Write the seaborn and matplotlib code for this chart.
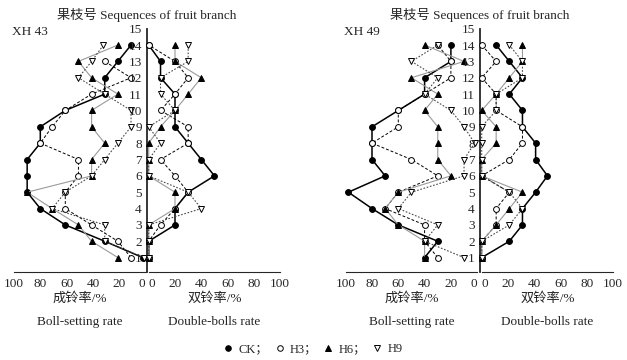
import numpy as np
import pandas as pd
import matplotlib
matplotlib.use("Agg")
import matplotlib.pyplot as plt
from matplotlib.lines import Line2D
import seaborn as sns

# Fruit branch sequence (y axis)
SEQ = list(range(1, 15))
TREATMENTS = ["CK", "H3", "H6", "H9"]

# XH 43 - boll-setting rate (%), seq 1..14
XH43_BS_CK = [2, 31, 61, 80, 90, 90, 90, 80, 80, 61, 31, 31, 21, 11]
XH43_BS_H3 = [11, 21, 41, 61, 61, 51, 51, 80, 71, 61, 41, 11, 31, np.nan]
XH43_BS_H6 = [21, 41, 51, 71, 90, 41, 41, 31, 41, 41, 21, 41, 51, 21]
XH43_BS_H9 = [1, 31, 31, 71, 61, 41, 31, 21, 11, 11, 31, 51, 41, 32]

# XH 43 - double-bolls rate (%)
XH43_DB_CK = [0, 0, 20, 20, 30, 50, 40, 30, 20, 20, 20, 9, 9, 0]
XH43_DB_H3 = [0, 0, 9, 20, 30, 20, 9, 30, 30, 9, 20, 30, 20, 0]
XH43_DB_H6 = [0, 0, 0, 20, 20, 0, 0, 0, 9, 20, 30, 40, 20, 20]
XH43_DB_H9 = [0, 0, 0, 40, 30, 0, 0, 9, 0, 20, 9, 9, 30, 30]

# XH 49 - boll-setting rate (%)
XH49_BS_CK = [40, 30, 60, 80, 98, 70, 80, 80, 80, 60, 40, 40, 20, 20]
XH49_BS_H3 = [30, 40, 40, 70, 60, 30, 50, 80, 60, 60, 40, 20, 20, 30]
XH49_BS_H6 = [40, 40, 60, 70, 60, 20, 30, 30, 30, 40, 30, 50, 10, 40]
XH49_BS_H9 = [10, 40, 30, 60, 50, 10, 10, 2, 10, 20, 40, 30, 50, 30]

# XH 49 - double-bolls rate (%)
XH49_DB_CK = [0, 21, 31, 31, 41, 50, 41, 41, 31, 31, 21, 31, 21, 11]
XH49_DB_H3 = [0, 0, 11, 11, 21, 0, 21, 31, 31, 11, 11, 0, 11, 0]
XH49_DB_H6 = [0, 0, 11, 21, 31, 0, 0, 11, 11, 0, 11, 21, 31, 31]
XH49_DB_H9 = [0, 0, 21, 31, 21, 0, 0, 0, 0, 11, 11, 31, 31, 21]

RATE_TICKS = [0, 20, 40, 60, 80, 100]
SEQ_TICKS = list(range(1, 16))

STYLES = {
    "CK": dict(color="black", linestyle="-", linewidth=1.1, marker="o",
               markerfacecolor="black"),
    "H3": dict(color="black", linestyle=(0, (3, 2)), linewidth=0.7, marker="o",
               markerfacecolor="white"),
    "H6": dict(color="#9a9a9a", linestyle="-", linewidth=0.8, marker="^",
               markerfacecolor="black"),
    "H9": dict(color="#4a4a4a", linestyle=(0, (1.5, 1.5)), linewidth=0.8, marker="v",
               markerfacecolor="white"),
}

FONT = ["Liberation Serif", "Noto Sans CJK SC"]


def to_frame(series):
    rows = []
    for name, vals in zip(TREATMENTS, series):
        for s, v in zip(SEQ, vals):
            rows.append({"seq": s, "rate": v, "treatment": name})
    return pd.DataFrame(rows).dropna()


def draw_side(ax, df):
    for name in TREATMENTS:
        sub = df[df["treatment"] == name]
        sns.lineplot(data=sub, x="rate", y="seq", orient="y", sort=False,
                     estimator=None, ax=ax, markersize=4.2,
                     markeredgecolor="black", markeredgewidth=0.7,
                     clip_on=False, zorder=3, **STYLES[name])
    ax.set_ylim(0.12, 15)
    ax.set_xlabel("")
    ax.set_ylabel("")
    for sp in ["top", "right", "left"]:
        ax.spines[sp].set_visible(False)
    ax.spines["bottom"].set_linewidth(0.8)
    ax.set_xticks(RATE_TICKS)
    ax.tick_params(axis="x", direction="in", length=3, width=0.8,
                   labelsize=9.5, pad=4)


sns.set_style("white")
plt.rcParams["font.family"] = FONT
plt.rcParams["axes.facecolor"] = "white"

fig = plt.figure(figsize=(6.27, 3.6), dpi=100)

panels = [
    ("XH 43", (XH43_BS_CK, XH43_BS_H3, XH43_BS_H6, XH43_BS_H9),
     (XH43_DB_CK, XH43_DB_H3, XH43_DB_H6, XH43_DB_H9), 14, 148.7),
    ("XH 49", (XH49_BS_CK, XH49_BS_H3, XH49_BS_H6, XH49_BS_H9),
     (XH49_DB_CK, XH49_DB_H3, XH49_DB_H6, XH49_DB_H9), 345.7, 481.7),
]

W, H = 627.0, 360.0
y0 = (H - 272) / H
hgt = 243.3 / H

for label, bs, db, lx, rx in panels:
    ax_l = fig.add_axes([lx / W, y0, 131.5 / W, hgt])
    ax_r = fig.add_axes([rx / W, y0, 131.5 / W, hgt], sharey=ax_l)
    ax_l.patch.set_alpha(0)
    ax_r.patch.set_alpha(0)

    draw_side(ax_l, to_frame(bs))
    ax_l.set_xlim(100, 0)
    ax_l.tick_params(axis="y", left=False, labelleft=False)

    draw_side(ax_r, to_frame(db))
    ax_r.set_xlim(0, 100)
    ax_r.spines["left"].set_visible(True)
    ax_r.spines["left"].set_linewidth(1.3)
    ax_r.spines["left"].set_position(("outward", 1.5))
    ax_r.set_yticks(SEQ_TICKS)
    ax_r.tick_params(axis="y", direction="inout", length=5, width=0.8,
                     labelsize=9.5, pad=1)

    # keep the two "0" labels at the centre apart
    ax_l.get_xticklabels()[0].set_horizontalalignment("right")
    ax_r.get_xticklabels()[0].set_horizontalalignment("left")

    for ax, cn, en in [(ax_l, "成铃率/%", "Boll-setting rate"),
                       (ax_r, "双铃率/%", "Double-bolls rate")]:
        ax.text(0.5, -0.11, cn, transform=ax.transAxes, ha="center",
                va="center", fontsize=9.5, color="#222222")
        ax.text(0.5, -0.205, en, transform=ax.transAxes, ha="center",
                va="center", fontsize=9.5)

    cx = (lx + 131.5 + rx) / 2 / W
    fig.text(cx, 1 - 15 / H, "果枝号 Sequences of fruit branch", ha="center",
             va="center", fontsize=9.5)
    fig.text((lx - 2) / W, 1 - 32 / H, label, ha="left", va="center",
             fontsize=9.5)

handles = [Line2D([], [], linestyle="none", marker=STYLES[n]["marker"],
                  markerfacecolor=STYLES[n]["markerfacecolor"],
                  markeredgecolor="black", markeredgewidth=0.7, markersize=4)
           for n in TREATMENTS]
fig.legend(handles, ["CK；", "H3；", "H6；", "H9"], ncol=4, loc="center",
           bbox_to_anchor=(0.5, 0.03), frameon=False, handlelength=0.6,
           handletextpad=0.5, columnspacing=0.6, prop={"family": FONT, "size": 9})

fig.savefig("out.png", dpi=100, facecolor="white")
